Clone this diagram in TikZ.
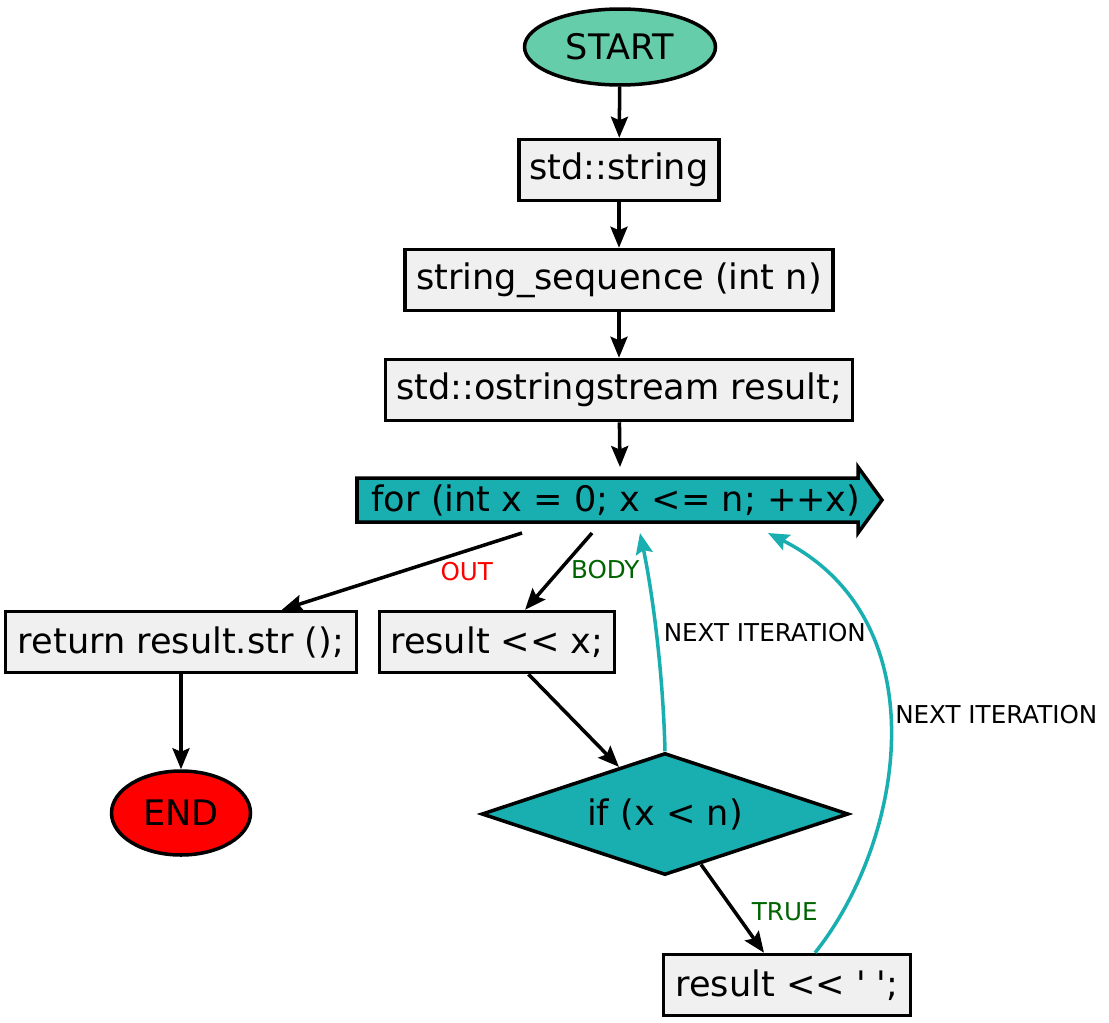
\documentclass[tikz,border=0pt]{standalone}
\usepackage{fontspec}
\setmainfont{DejaVu Sans}
\usetikzlibrary{shapes.geometric,arrows.meta,calc}
\definecolor{startgreen}{HTML}{66CDAA}
\definecolor{loopteal}{HTML}{19AFB1}
\definecolor{boxgray}{HTML}{F0F0F0}
\definecolor{lblgreen}{HTML}{006400}
\begin{document}
\begin{tikzpicture}[x=0.02cm, y=-0.02cm,
    every node/.style={font=\fontsize{20}{24}\selectfont},
    box/.style={draw, line width=2pt, fill=boxgray, minimum height=1.22cm, inner sep=0pt},
    term/.style={ellipse, draw, line width=2pt, inner sep=0pt},
    cond/.style={diamond, draw, line width=2pt, fill=loopteal, aspect=3, inner sep=0pt},
    flow/.style={line width=2pt, -{Stealth[length=0.42cm, width=0.34cm, inset=0.07cm]}},
    back/.style={flow, draw=loopteal},
    lbl/.style={font=\fontsize{14}{16}\selectfont, inner sep=1pt}]
    \useasboundingbox (0,0) rectangle (1109,1022);

    % --- Main column ---
    \node[term, fill=startgreen, minimum width=3.82cm, minimum height=1.52cm] (start) at (620,47) {START};
    \node[box, minimum width=4cm] (str) at (619,170) {std::string};
    \node[box, minimum width=8.56cm] (seq) at (619,280) {string\_sequence (int n)};
    \node[box, minimum width=9.34cm] (ostr) at (619,390) {std::ostringstream result;};

    % --- Loop header (arrow shape drawn directly) ---
    \filldraw[line width=2pt, fill=loopteal, line join=miter]
        (357,478) -- (858,478) -- (858,467) -- (882,500) -- (858,533) -- (858,522) -- (357,522) -- cycle;
    \node[inner sep=0pt] (forN) at (616,500) {for (int x = 0; x <{}= n; ++x)};
    \coordinate (forTop) at (620,467);
    \coordinate (outStart) at (522,533);
    \coordinate (bodyStart) at (592,533);
    \coordinate (nextA) at (640,533);
    \coordinate (nextB) at (768,533);

    % --- Branches ---
    \node[box, minimum width=7.02cm] (ret) at (181,642) {return result.str ();};
    \node[term, fill=red, minimum width=2.78cm, minimum height=1.68cm] (stop) at (181,813) {END};
    \node[box, minimum width=4.7cm] (rx) at (497,642) {result <{}< x;};
    \node[cond, minimum width=7.34cm, minimum height=2.44cm] (ifN) at (665,814) {if (x < n)};
    \node[box, minimum width=4.94cm] (rs) at (787,985) {result <{}< \textquotesingle\ \textquotesingle;};

    % --- Connectors ---
    \draw[flow] (start) -- (str);
    \draw[flow] (str) -- (seq);
    \draw[flow] (seq) -- (ostr);
    \draw[flow] (ostr) -- (forTop);
    \draw[flow] (outStart) -- (ret) node[lbl, pos=0.23, below=0.16cm, text=red] {OUT};
    \draw[flow] (bodyStart) -- (rx) node[lbl, pos=0.47, right=0.14cm, text=lblgreen] {BODY};
    \draw[flow] (ret) -- (stop);
    \draw[flow] (rx) -- (ifN);
    \draw[flow] (ifN) -- (rs) node[lbl, pos=0.53, right=0.28cm, text=lblgreen] {TRUE};
    \draw[back] (ifN.north) .. controls (663,670) and (652,590) .. (nextA)
        node[lbl, pos=0.5, anchor=west, xshift=0.08cm] {NEXT ITERATION};
    \draw[back] ([xshift=0.56cm]rs.north) .. controls (905,840) and (940,620) .. (nextB)
        node[lbl, pos=0.54, anchor=west, xshift=0.06cm] {NEXT ITERATION};
\end{tikzpicture}
\end{document}
